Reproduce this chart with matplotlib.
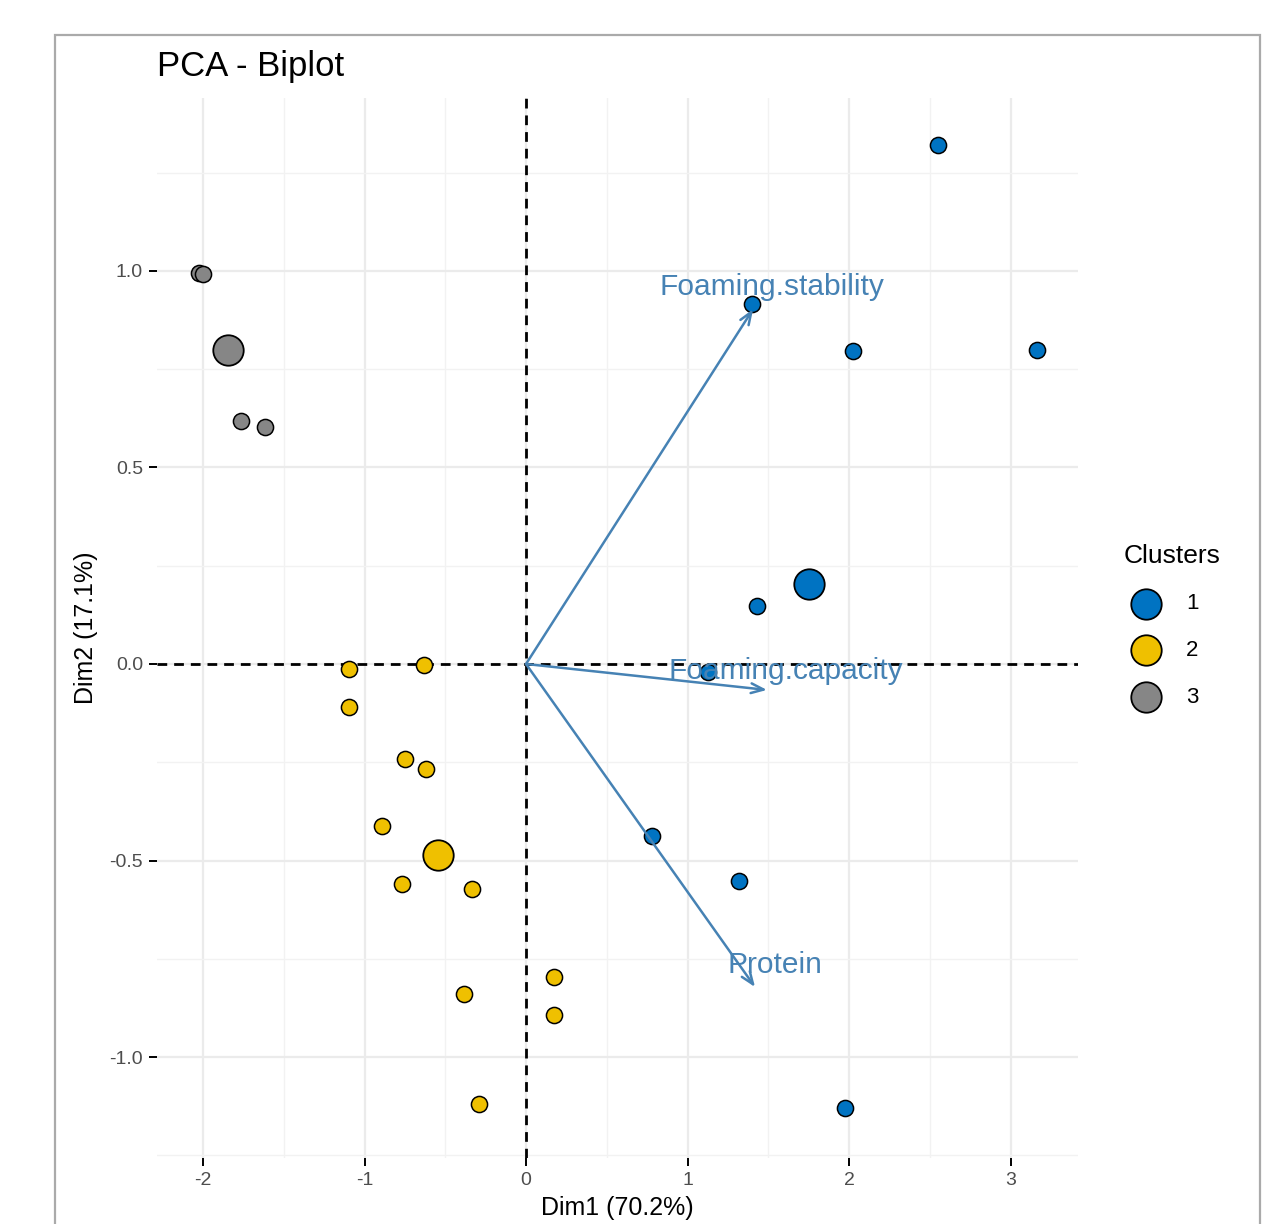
import matplotlib.pyplot as plt
import numpy as np
from matplotlib.patches import Rectangle

plt.rcParams['font.family'] = ['Liberation Sans', 'DejaVu Sans']
plt.rcParams['axes.unicode_minus'] = False

# individuals (Dim1, Dim2) per cluster
c1_x = [2.551, 1.399, 2.025, 3.164, 1.430, 1.127, 0.780, 1.319, 1.975]
c1_y = [1.321, 0.916, 0.796, 0.799, 0.148, -0.020, -0.438, -0.552, -1.130]
c2_x = [-1.096, -0.632, -1.096, -0.749, -0.619, -0.892, -0.768, -0.334, 0.173, 0.173, -0.384, -0.291]
c2_y = [-0.013, -0.003, -0.109, -0.242, -0.267, -0.412, -0.560, -0.573, -0.796, -0.893, -0.840, -1.120]
c3_x = [-2.025, -2.000, -1.815, -1.765, -1.616]
c3_y = [0.995, 0.992, 0.788, 0.618, 0.603]

# cluster centres
cent_x = [1.752, -0.545, -1.843]
cent_y = [0.204, -0.486, 0.799]

# variable arrows
var_names = ['Foaming.stability', 'Foaming.capacity', 'Protein']
var_x = [1.406, 1.492, 1.418]
var_y = [0.903, -0.066, -0.822]
lab_x = [1.523, 1.610, 1.542]
lab_y = [0.959, -0.018, -0.766]

clusters = ['1', '2', '3']
colors = ['#0073C2', '#EFC000', '#868686']
arrow_col = '#4682B4'

fig = plt.figure(figsize=(12.71, 12.24), dpi=100)
ax = fig.add_axes([0.1235, 0.0539, 0.7247, 0.866])

# outer border
fig.patches.append(Rectangle((55 / 1271, -0.05), 1205 / 1271, 1 - 35 / 1224 + 0.05,
                             transform=fig.transFigure, fill=False,
                             edgecolor='#AAAAAA', linewidth=1.6))

ax.set_xticks([-2, -1, 0, 1, 2, 3])
ax.set_xticks([-1.5, -0.5, 0.5, 1.5, 2.5], minor=True)
ax.set_yticks([-1.0, -0.5, 0.0, 0.5, 1.0])
ax.set_yticks([-1.25, -0.75, -0.25, 0.25, 0.75, 1.25], minor=True)
ax.set_yticklabels(['-1.0', '-0.5', '0.0', '0.5', '1.0'])
ax.set_xlim(-2.285, 3.418)
ax.set_ylim(-1.257, 1.440)
ax.grid(which='major', color='#EBEBEB', linewidth=1.6)
ax.grid(which='minor', color='#F2F2F2', linewidth=1.0)
ax.set_axisbelow(True)
for s in ax.spines.values():
    s.set_visible(False)
ax.tick_params(which='major', length=6, width=1.4, color='black',
               labelsize=14, labelcolor='#4D4D4D', pad=4)
ax.tick_params(which='minor', length=0)

ax.axhline(0, color='black', linestyle=(0, (3.5, 2.5)), linewidth=2.0, zorder=2)
ax.axvline(0, color='black', linestyle=(0, (3.5, 2.5)), linewidth=2.0, zorder=2)

pts = [(c1_x, c1_y), (c2_x, c2_y), (c3_x, c3_y)]
for (px, py), col in zip(pts, colors):
    ax.scatter(px, py, s=135, color=col, edgecolor='black', linewidth=1.1, zorder=3)
for i in range(3):
    ax.scatter(cent_x[i], cent_y[i], s=480, color=colors[i], edgecolor='black',
               linewidth=1.3, zorder=3)

for i in range(3):
    ax.annotate('', xy=(var_x[i], var_y[i]), xytext=(0, 0),
                arrowprops=dict(arrowstyle='->,head_length=0.9,head_width=0.35',
                                color=arrow_col, linewidth=1.8, shrinkA=0, shrinkB=0),
                zorder=4)
    ax.text(lab_x[i], lab_y[i], var_names[i], color=arrow_col, fontsize=21.5,
            ha='center', va='center', zorder=5)

ax.set_xlabel('Dim1 (70.2%)', fontsize=18, labelpad=5)
ax.set_ylabel('Dim2 (17.1%)', fontsize=18, labelpad=8)
ax.set_title('PCA - Biplot', fontsize=25, loc='left', x=0.0, pad=16)

# legend
handles = [ax.scatter([], [], s=480, color=c, edgecolor='black', linewidth=1.3) for c in colors]
leg = fig.legend(handles, clusters, title='Clusters', loc='upper left',
                 bbox_to_anchor=(1115 / 1271, 1 - 535 / 1224), frameon=False,
                 fontsize=16, title_fontsize=19, labelspacing=1.15,
                 handletextpad=0.8, borderaxespad=0, alignment='left')

fig.savefig('out.png', dpi=100)
